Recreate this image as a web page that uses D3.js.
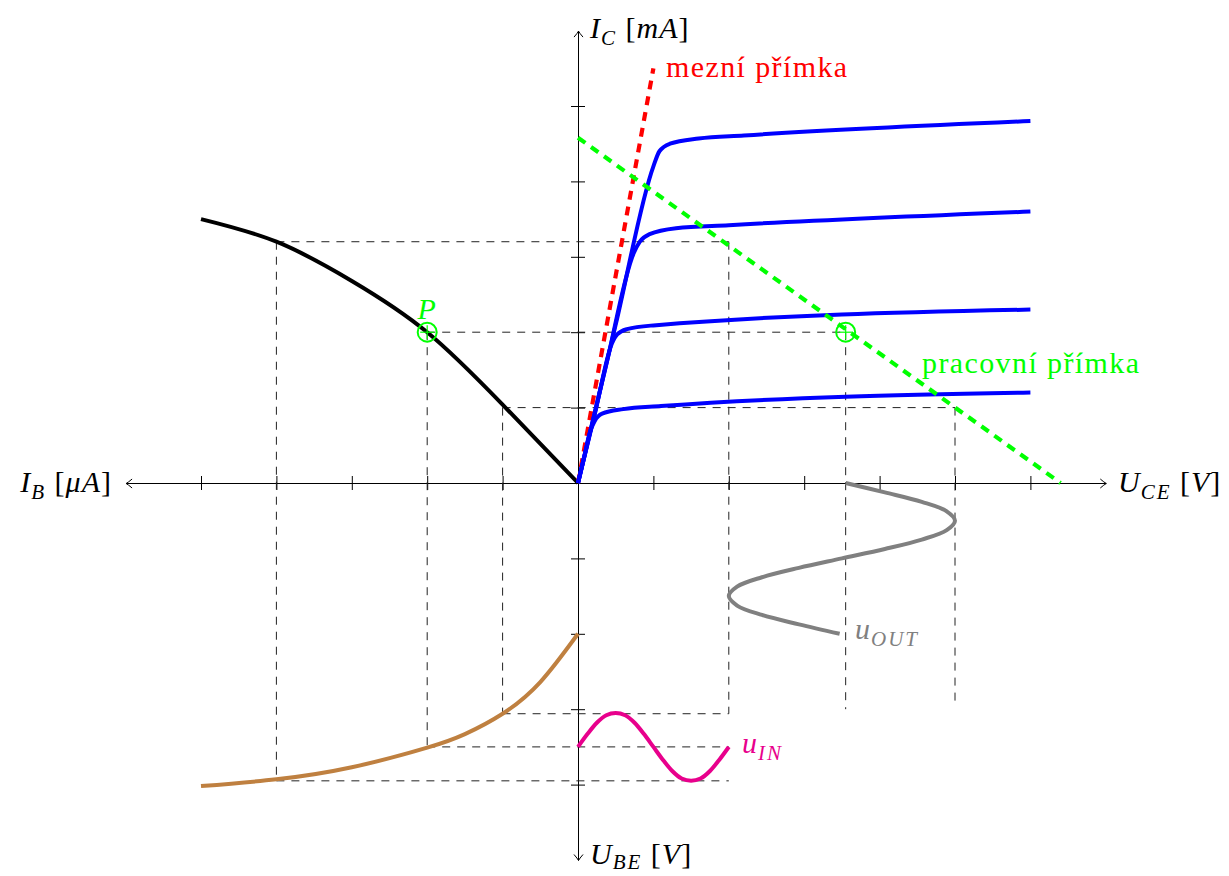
<!DOCTYPE html>
<html>
<head>
<meta charset="utf-8">
<script src="https://cdn.jsdelivr.net/npm/d3@7"></script>
<style>
  html, body { margin: 0; padding: 0; background: #fff; }
  svg { display: block; }
</style>
</head>
<body>
<div id="chart"></div>
<script>
// tranzistor - charakteristiky ve 4 kvadrantech
const W = 1229, H = 876;

// osy (jednotky diagramu)
const xDomain = [-6, 7];
const yDomain = [-5, 6];
const xTicks = [-5, -4, -3, -2, -1, 1, 2, 3, 4, 5, 6];
const yTicks = [-4, -3, -2, -1, 1, 2, 3, 4, 5];

// vystupni charakteristiky I_C(U_CE)
const outCurve1 = [[0,0],[0.08,0.34],[0.16,0.68],[0.22,0.82],[0.32,0.92],[0.6,0.98],[1.1,1.02],[6,1.2]];
const outCurve2 = [[0,0],[0.22,0.9],[0.45,1.85],[0.52,1.97],[0.65,2.04],[1,2.09],[6,2.3]];
const outCurve3 = [[0,0],[0.37,1.55],[0.74,3.05],[0.82,3.2],[0.95,3.3],[1.3,3.38],[2,3.42],[6,3.6]];
const outCurve4 = [[0,0],[0.5,2.1],[1.0,4.2],[1.08,4.4],[1.22,4.5],[1.6,4.57],[2.2,4.61],[6,4.8]];
const outCurves = [outCurve1, outCurve2, outCurve3, outCurve4];

// proudova charakteristika I_C(I_B)
const transferCurve = [[-5,3.5],[-4,3.2],[-3,2.68],[-2,2],[-1,1.04],[0,0]];
// vstupni charakteristika U_BE(I_B)
const inputCurve = [[-5,-4.02],[-4,-3.93],[-3,-3.77],[-2,-3.51],[-1.5,-3.33],[-1,-3.06],[-0.5,-2.64],[0,-2]];

// mezni a pracovni primka
const limitLine = [[0,0],[1,5.5]];
const loadLine = [[0,4.58],[6.4,0]];

// vstupni a vystupni signal
const uInX = [0,0.125,0.25,0.375,0.5,0.625,0.75,0.875,1,1.125,1.25,1.375,1.5,1.625,1.75,1.875,2];
const uInY = [-3.5,-3.33,-3.18,-3.08,-3.05,-3.08,-3.18,-3.33,-3.5,-3.67,-3.82,-3.92,-3.95,-3.92,-3.82,-3.67,-3.5];
const uOutX = [3.55,4.07,4.56,4.89,5.0,4.89,4.56,4.07,3.5,2.93,2.44,2.11,2.0,2.11,2.44,2.93,3.47];
const uOutY = [0,-0.125,-0.25,-0.375,-0.5,-0.625,-0.75,-0.875,-1,-1.125,-1.25,-1.375,-1.5,-1.625,-1.75,-1.875,-2];

// pracovni body (min, P, max)
const qIB = [-1, -2, -4];
const qIC = [1, 2, 3.2];
const qUBE = [-3.06, -3.5, -3.95];
const qUCE = [5, 3.55, 2];
const qUceEnd = [-2.95, -3.0, -3.06];
const uInEnd = 2;

const U = 75.4;
const ox = 578, oy = 483;
const x = d3.scaleLinear().domain(xDomain).range([ox + xDomain[0] * U, ox + xDomain[1] * U]);
const y = d3.scaleLinear().domain(yDomain).range([oy - yDomain[0] * U, oy - yDomain[1] * U]);

const svg = d3.select("#chart").append("svg")
    .attr("width", W).attr("height", H)
    .style("font-family", "'Liberation Serif', 'Times New Roman', Tinos, 'Noto Serif', 'DejaVu Serif', FreeSerif, serif");

// sipka typu "to"
svg.append("defs").append("marker")
    .attr("id", "arr")
    .attr("viewBox", "-8 -6 10 12")
    .attr("refX", 0).attr("refY", 0)
    .attr("markerWidth", 10).attr("markerHeight", 12)
    .attr("markerUnits", "userSpaceOnUse")
    .attr("orient", "auto-start-reverse")
    .append("path")
    .attr("d", "M-6,-4.5 Q-2,-1 0,0 Q-2,1 -6,4.5")
    .attr("fill", "none").attr("stroke", "#000").attr("stroke-width", 1);

const line = d3.line().x(d => x(d[0])).y(d => y(d[1]));
const smooth = d3.line().x(d => x(d[0])).y(d => y(d[1])).curve(d3.curveMonotoneX);
const natural = d3.line().x(d => x(d[0])).y(d => y(d[1])).curve(d3.curveNatural);
const smoothCR = d3.line().x(d => x(d[0])).y(d => y(d[1])).curve(d3.curveCatmullRom.alpha(0.5));

// osy
const xAxis = svg.append("g").attr("transform", `translate(0,${y(0)})`)
    .call(d3.axisBottom(x).tickValues(xTicks).tickSizeInner(14).tickSizeOuter(0).tickFormat(""));
xAxis.selectAll(".tick line").attr("y1", -7).attr("y2", 7);
const yAxis = svg.append("g").attr("transform", `translate(${x(0)},0)`)
    .call(d3.axisLeft(y).tickValues(yTicks).tickSizeInner(14).tickSizeOuter(0).tickFormat(""));
yAxis.selectAll(".tick line").attr("x1", -7).attr("x2", 7);
svg.selectAll(".domain")
    .attr("stroke", "#000").attr("stroke-width", 1)
    .attr("marker-start", "url(#arr)").attr("marker-end", "url(#arr)");
svg.selectAll(".tick line").attr("stroke", "#000").attr("stroke-width", 1);

// pomocne carkovane cary
const guides = svg.append("g")
    .attr("stroke", "#222").attr("stroke-width", 1).attr("stroke-dasharray", "8 7").attr("fill", "none");
qIB.forEach((ib, i) => {
  guides.append("path").attr("d", line([[ib, qIC[i]], [qUCE[i], qIC[i]]]));
  guides.append("path").attr("d", line([[ib, qIC[i]], [ib, qUBE[i]]]));
  guides.append("path").attr("d", line([[ib, qUBE[i]], [uInEnd, qUBE[i]]]));
  guides.append("path").attr("d", line([[qUCE[i], qIC[i]], [qUCE[i], qUceEnd[i]]]));
});

// charakteristiky
svg.append("path").attr("d", natural(transferCurve))
    .attr("fill", "none").attr("stroke", "#000").attr("stroke-width", 4);
svg.append("path").attr("d", natural(inputCurve))
    .attr("fill", "none").attr("stroke", "#bf8040").attr("stroke-width", 4);

svg.append("path").attr("d", line(limitLine))
    .attr("fill", "none").attr("stroke", "#ff0000").attr("stroke-width", 4.2)
    .attr("stroke-dasharray", "9 7");

svg.selectAll(".out-curve").data(outCurves).enter().append("path")
    .attr("class", "out-curve")
    .attr("d", d => smooth(d))
    .attr("fill", "none").attr("stroke", "#0000ff").attr("stroke-width", 4);

svg.append("path").attr("d", line(loadLine))
    .attr("fill", "none").attr("stroke", "#00ff00").attr("stroke-width", 4.2)
    .attr("stroke-dasharray", "9 7");

svg.append("path").attr("d", smooth(uInX.map((v, i) => [v, uInY[i]])))
    .attr("fill", "none").attr("stroke", "#e8008c").attr("stroke-width", 4);
svg.append("path").attr("d", smoothCR(uOutX.map((v, i) => [v, uOutY[i]])))
    .attr("fill", "none").attr("stroke", "#808080").attr("stroke-width", 4);

// pracovni bod P
const marks = [[qIB[1], qIC[1]], [qUCE[1], qIC[1]]];
marks.forEach(m => {
  const g = svg.append("g").attr("transform", `translate(${x(m[0])},${y(m[1])})`)
      .attr("stroke", "#00ff00").attr("fill", "none");
  g.append("circle").attr("r", 9.5).attr("stroke-width", 2);
  g.append("line").attr("x1", -7).attr("x2", 7).attr("stroke-width", 1.2);
  g.append("line").attr("y1", -7).attr("y2", 7).attr("stroke-width", 1.2);
});

// popisky
function mathText(px, py, parts, color, anchor, subShift) {
  const sh = subShift || 7;
  const t = svg.append("text").attr("x", px).attr("y", py)
      .attr("fill", color).attr("font-size", 30).attr("text-anchor", anchor || "start")
      .attr("letter-spacing", 1);
  let shift = 0;
  parts.forEach(p => {
    const s = t.append("tspan").text(p[0]);
    if (p[1] === "i") s.attr("font-style", "italic");
    if (p[1] === "sub") {
      s.attr("font-style", "italic").attr("font-size", 21).attr("dy", sh - shift)
          .attr("letter-spacing", 2);
      shift = sh;
    } else if (shift) {
      s.attr("dy", -shift);
      shift = 0;
    }
  });
  return t;
}

mathText(590, 38, [["I", "i"], ["C", "sub"], ["  [", "r"], ["mA", "i"], ["]", "r"]], "#000");
mathText(112, 492, [["I", "i"], ["B", "sub"], ["  [", "r"], ["\u03bcA", "i"], ["]", "r"]], "#000", "end");
mathText(1118, 492, [["U", "i"], ["CE", "sub"], ["  [", "r"], ["V", "i"], ["]", "r"]], "#000");
mathText(590, 864, [["U", "i"], ["BE", "sub"], ["  [", "r"], ["V", "i"], ["]", "r"]], "#000", "start", 5);
mathText(855, 639, [["u", "i"], ["OUT", "sub"]], "#808080");
mathText(742, 753, [["u", "i"], ["IN", "sub"]], "#e8008c");
mathText(x(qIB[1]), 319, [["P", "i"]], "#00ff00", "middle");

svg.append("text").attr("x", 666).attr("y", 77)
    .attr("font-size", 30).attr("letter-spacing", 1.4).attr("fill", "#ff0000")
    .text("mezní přímka");
svg.append("text").attr("x", 922).attr("y", 373)
    .attr("font-size", 30).attr("letter-spacing", 1.4).attr("fill", "#00ff00")
    .text("pracovní přímka");
</script>
</body>
</html>
